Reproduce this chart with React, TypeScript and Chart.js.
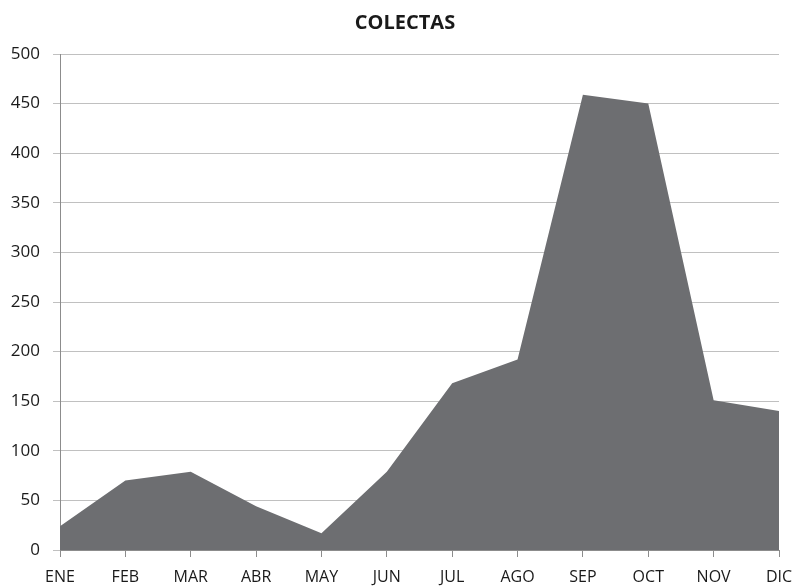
import React, { useEffect, useRef } from "react";
import { Chart, registerables } from "chart.js";

Chart.register(...registerables);

const months = ["ENE", "FEB", "MAR", "ABR", "MAY", "JUN", "JUL", "AGO", "SEP", "OCT", "NOV", "DIC"];
const colectas = [24, 70, 79, 44, 17, 79, 168, 192, 459, 450, 151, 140];
const chartTitle = "COLECTAS";
const yMax = 500;
const yStep = 50;

const FONT = "'Open Sans', 'DejaVu Sans', sans-serif";

const titlePlugin = {
  id: "customTitle",
  afterDraw(chart: any) {
    const ctx = chart.ctx;
    ctx.save();
    ctx.font = `bold 20px ${FONT}`;
    ctx.fillStyle = "#1a1a1a";
    ctx.textAlign = "center";
    ctx.textBaseline = "middle";
    ctx.fillText(chartTitle, 405, 23);
    ctx.restore();
  },
};

export default function App() {
  const ref = useRef<HTMLCanvasElement | null>(null);

  useEffect(() => {
    document.body.style.margin = "0";
    if (!ref.current) return;
    const chart = new Chart(ref.current, {
      type: "line",
      data: {
        labels: months,
        datasets: [
          {
            label: chartTitle,
            data: colectas,
            fill: "origin",
            backgroundColor: "#6d6e71",
            borderWidth: 0,
            borderColor: "rgba(0,0,0,0)",
            pointRadius: 0,
            tension: 0,
          },
        ],
      },
      plugins: [titlePlugin],
      options: {
        animation: false,
        responsive: false,
        maintainAspectRatio: false,
        layout: { padding: { left: 8, right: 0, top: 54, bottom: 0 } },
        plugins: {
          legend: { display: false },
          tooltip: { enabled: false },
          title: { display: false },
        },
        scales: {
          x: {
            offset: false,
            grid: {
              display: true,
              drawOnChartArea: false,
              drawTicks: true,
              tickLength: 7,
              color: "#8c8c8c",
            },
            border: { display: true, color: "#8c8c8c", width: 1 },
            ticks: {
              color: "#1a1a1a",
              font: { family: FONT, size: 16 },
              padding: 11,
              maxRotation: 0,
              autoSkip: false,
            },
            afterFit: (scale: any) => {
              scale.height = 36;
              scale.paddingRight = 15;
            },
          },
          y: {
            min: 0,
            max: yMax,
            grid: {
              color: "#c0c0c0",
              tickLength: 7,
              drawTicks: true,
            },
            border: { display: true, color: "#8c8c8c", width: 1 },
            ticks: {
              stepSize: yStep,
              color: "#1a1a1a",
              font: { family: FONT, size: 17 },
              padding: 13,
            },
            afterFit: (scale: any) => {
              scale.width = 52;
            },
          },
        },
      },
    });
    return () => chart.destroy();
  }, []);

  return (
    <div style={{ position: "absolute", left: 0, top: 0, width: 794, height: 586, background: "#fff" }}>
      <canvas ref={ref} width={794} height={586} style={{ width: 794, height: 586, display: "block" }} />
    </div>
  );
}
